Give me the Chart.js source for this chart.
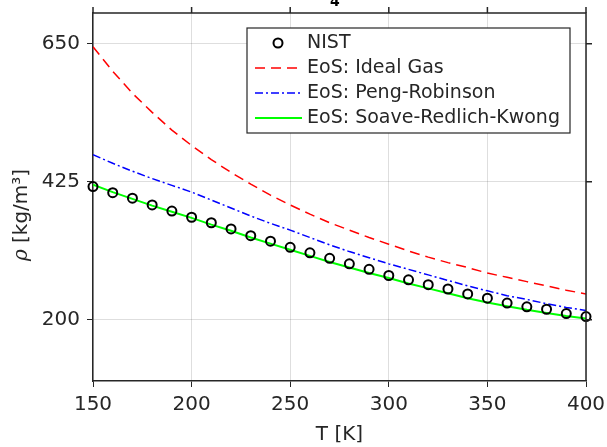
<!DOCTYPE html>
<html>
<head>
<meta charset="utf-8">
<script src="https://cdn.jsdelivr.net/npm/chart.js@4.4.0/dist/chart.umd.min.js"></script>
<style>
  html, body { margin: 0; padding: 0; background: #fff; }
  #wrap { width: 607px; height: 447px; position: relative; }
</style>
</head>
<body>
<div id="wrap"><canvas id="myChart"></canvas></div>
<script>
// temperatures [K]
const temps = [150, 160, 170, 180, 190, 200, 210, 220, 230, 240, 250, 260, 270,
  280, 290, 300, 310, 320, 330, 340, 350, 360, 370, 380, 390, 400];

// density [kg/m3]
const nist = [417, 407, 398, 387, 377, 367, 358, 348, 337, 328, 318, 309, 300,
  291, 282, 272, 265, 257, 250, 242, 235, 227, 221, 217, 210, 205];
const idealGas = [645, 605, 569, 538, 509, 484, 461, 440, 421, 403, 387, 372, 358,
  346, 334, 323, 312, 302, 293, 285, 276, 269, 262, 255, 248, 242];
const pengRobinson = [469, 455, 442, 430, 419, 408, 395, 382, 369, 357, 346, 334, 322,
  311, 301, 291, 282, 273, 264, 255, 247, 239, 233, 226, 220, 215];
const soaveRK = [420, 408, 397, 386, 376, 366, 355, 345, 334, 324, 314, 304, 294,
  285, 276, 268, 259, 251, 243, 235, 228, 222, 216, 211, 206, 202];

const seriesNames = ["NIST", "EoS: Ideal Gas", "EoS: Peng-Robinson", "EoS: Soave-Redlich-Kwong"];
const yTicks = [200, 425, 650];
const xTicks = [150, 200, 250, 300, 350, 400];

const toXY = (ys) => temps.map((t, i) => ({ x: t, y: ys[i] }));

const axisColor = "#262626";
const gridColor = "rgba(0,0,0,0.13)";

// box around the plot with ticks on the top and right sides too
const boxPlugin = {
  id: "box",
  afterDraw(chart) {
    const ctx = chart.ctx;
    const a = chart.chartArea;
    const xs = chart.scales.x;
    const ys = chart.scales.y;
    ctx.save();
    ctx.strokeStyle = axisColor;
    ctx.lineWidth = 1.5;
    ctx.beginPath();
    ctx.moveTo(a.left, a.top);
    ctx.lineTo(a.right, a.top);
    ctx.lineTo(a.right, a.bottom);
    ctx.stroke();
    ctx.beginPath();
    xTicks.forEach((t) => {
      const px = xs.getPixelForValue(t);
      ctx.moveTo(px, a.top);
      ctx.lineTo(px, a.top - 6);
    });
    yTicks.forEach((t) => {
      const py = ys.getPixelForValue(t);
      ctx.moveTo(a.right, py);
      ctx.lineTo(a.right + 6, py);
    });
    ctx.stroke();

    // title, mostly cut off by the top edge
    ctx.fillStyle = "#000";
    ctx.textBaseline = "alphabetic";
    ctx.font = "bold 20px 'DejaVu Sans'";
    ctx.textAlign = "right";
    ctx.fillText("CH", 330, -3);
    ctx.textAlign = "left";
    ctx.font = "bold 14px 'DejaVu Sans'";
    ctx.fillText("4", 330, 6);

    // y axis title (italic rho), a bit below the middle like the original
    ctx.save();
    ctx.translate(22, 215);
    ctx.rotate(-Math.PI / 2);
    ctx.fillStyle = axisColor;
    ctx.textBaseline = "middle";
    ctx.textAlign = "left";
    ctx.font = "italic 20px 'DejaVu Serif'";
    const rho = "ρ";
    const rest = " [kg/m³]";
    const w1 = ctx.measureText(rho).width;
    ctx.font = "20px 'DejaVu Sans'";
    const w2 = ctx.measureText(rest).width;
    const x0 = -(w1 + w2) / 2;
    ctx.font = "italic 20px 'DejaVu Serif'";
    ctx.fillText(rho, x0, 0);
    ctx.font = "20px 'DejaVu Sans'";
    ctx.fillText(rest, x0 + w1, 0);
    ctx.restore();
    ctx.restore();
  },
};

// legend box inside the plot
const legendPlugin = {
  id: "boxLegend",
  afterDraw(chart) {
    const ctx = chart.ctx;
    const left = 247, top = 28, w = 323, h = 105;
    ctx.save();
    ctx.fillStyle = "#fff";
    ctx.fillRect(left, top, w, h);
    ctx.strokeStyle = axisColor;
    ctx.lineWidth = 1.2;
    ctx.strokeRect(left, top, w, h);
    chart.data.datasets.forEach((ds, i) => {
      const cy = top + 15 + i * 25;
      ctx.strokeStyle = ds.borderColor;
      if (ds.showLine === false) {
        ctx.lineWidth = 2;
        ctx.setLineDash([]);
        ctx.beginPath();
        ctx.arc(278, cy, 4.5, 0, Math.PI * 2);
        ctx.stroke();
      } else {
        ctx.lineWidth = ds.borderWidth;
        ctx.setLineDash(ds.borderDash || []);
        ctx.beginPath();
        ctx.moveTo(255, cy);
        ctx.lineTo(302, cy);
        ctx.stroke();
      }
      ctx.setLineDash([]);
      ctx.fillStyle = axisColor;
      ctx.font = "19px 'DejaVu Sans'";
      ctx.textAlign = "left";
      ctx.textBaseline = "middle";
      ctx.fillText(ds.label, 307, cy);
    });
    ctx.restore();
  },
};

const ctx = document.getElementById("myChart");
new Chart(ctx, {
  type: "line",
  data: {
    datasets: [
      {
        label: seriesNames[0],
        data: toXY(nist),
        showLine: false,
        borderColor: "#000",
        backgroundColor: "rgba(0,0,0,0)",
        pointStyle: "circle",
        pointRadius: 4.5,
        pointBorderWidth: 2,
        clip: false,
        order: 0,
      },
      {
        label: seriesNames[1],
        data: toXY(idealGas),
        borderColor: "#ff0000",
        borderWidth: 1.5,
        borderDash: [10, 6],
        pointRadius: 0,
        order: 3,
      },
      {
        label: seriesNames[2],
        data: toXY(pengRobinson),
        borderColor: "#0000ff",
        borderWidth: 1.5,
        borderDash: [8, 3, 2, 3],
        pointRadius: 0,
        order: 2,
      },
      {
        label: seriesNames[3],
        data: toXY(soaveRK),
        borderColor: "#00ff00",
        borderWidth: 2,
        pointRadius: 0,
        order: 1,
      },
    ],
  },
  options: {
    responsive: true,
    maintainAspectRatio: false,
    animation: false,
    layout: { padding: { top: 13, right: 21, left: 0, bottom: 0 } },
    plugins: {
      legend: { display: false },
      tooltip: { enabled: false },
    },
    scales: {
      x: {
        type: "linear",
        min: 150,
        max: 400,
        afterBuildTicks: (s) => { s.ticks = xTicks.map((v) => ({ value: v })); },
        afterFit: (s) => {
          s.height = 66;
          s.paddingLeft = 0;
          s.paddingRight = 0;
        },
        ticks: {
          color: axisColor,
          font: { family: "DejaVu Sans", size: 20 },
          padding: 6,
          maxRotation: 0,
        },
        grid: { color: gridColor, tickColor: axisColor, tickLength: 6, lineWidth: 1 },
        border: { color: axisColor, width: 1.5 },
        title: {
          display: true,
          text: "T [K]",
          color: axisColor,
          font: { family: "DejaVu Sans", size: 20 },
          padding: { top: 0, bottom: 0 },
        },
      },
      y: {
        type: "linear",
        min: 100,
        max: 700,
        afterBuildTicks: (s) => { s.ticks = yTicks.map((v) => ({ value: v })); },
        afterFit: (s) => {
          s.width = 93;
          s.paddingTop = 0;
          s.paddingBottom = 0;
        },
        ticks: {
          color: axisColor,
          font: { family: "DejaVu Sans", size: 20 },
          padding: 7,
        },
        grid: { color: gridColor, tickColor: axisColor, tickLength: 6, lineWidth: 1 },
        border: { color: axisColor, width: 1.5 },
        title: { display: false },
      },
    },
  },
  plugins: [boxPlugin, legendPlugin],
});
</script>
</body>
</html>
